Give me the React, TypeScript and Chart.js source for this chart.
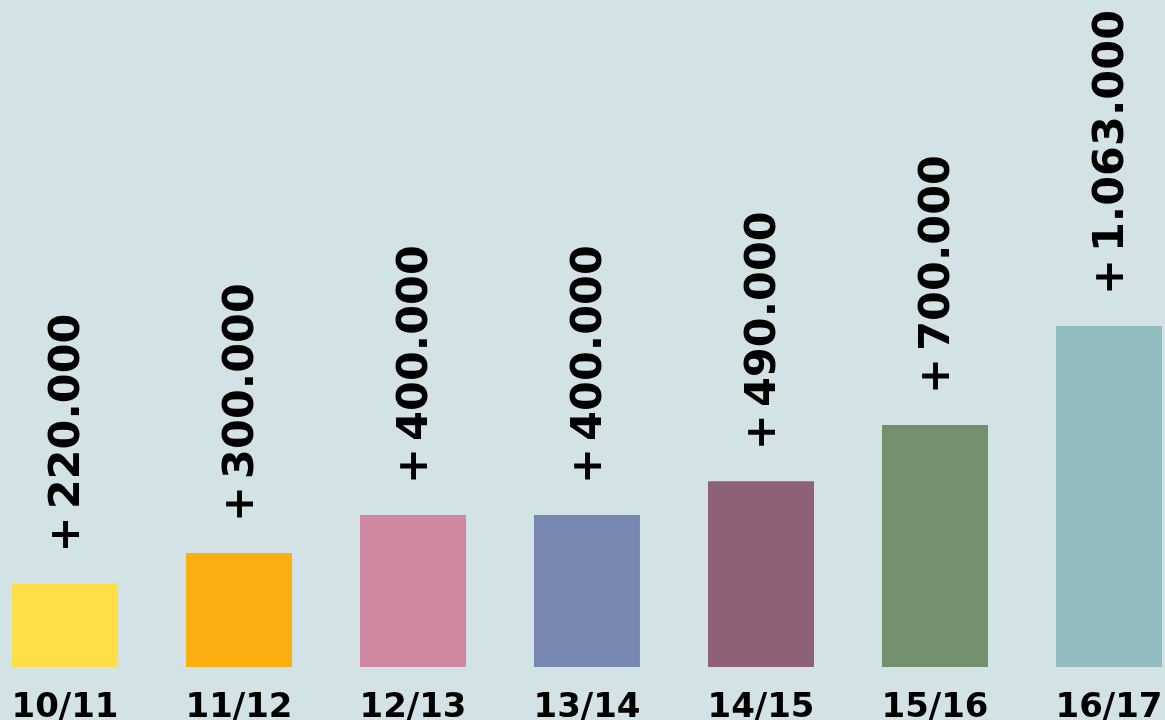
import React, { useEffect, useRef } from "react";
import { Chart, registerables } from "chart.js";

Chart.register(...registerables);

const seasons = ["10/11", "11/12", "12/13", "13/14", "14/15", "15/16", "16/17"];
// bar heights as drawn (thousands)
const barValues = [220, 300, 400, 400, 489, 637, 897];
// value labels as printed above the bars
const valueLabels = ["+220.000", "+300.000", "+400.000", "+400.000", "+490.000", "+700.000", "+1.063.000"];
const barColors = ["#FDE048", "#F8AF0F", "#D087A2", "#7887B1", "#8E6177", "#748F6B", "#91BCC0"];
const BG = "#D3E2E5";
const FONT = "'DejaVu Sans', sans-serif";

const valueLabelPlugin = {
  id: "valueLabels",
  afterDatasetsDraw(chart: any) {
    const ctx = chart.ctx;
    const meta = chart.getDatasetMeta(0);
    ctx.save();
    ctx.fillStyle = "#000";
    ctx.font = `bold 43px ${FONT}`;
    ctx.textAlign = "left";
    ctx.textBaseline = "alphabetic";
    meta.data.forEach((bar: any, i: number) => {
      const label = valueLabels[i];
      const sign = label.charAt(0);
      const rest = label.slice(1);
      ctx.save();
      ctx.translate(bar.x + 14, bar.y - 31);
      ctx.rotate(-Math.PI / 2);
      ctx.fillText(sign, 0, 0);
      ctx.fillText(rest, ctx.measureText(sign).width + 7, 0);
      ctx.restore();
    });
    ctx.restore();
  },
};

export default function App() {
  const ref = useRef<HTMLCanvasElement>(null);
  useEffect(() => {
    if (!ref.current) return;
    const chart = new Chart(ref.current, {
      type: "bar",
      data: {
        labels: seasons,
        datasets: [
          {
            data: barValues,
            backgroundColor: barColors,
            borderWidth: 0,
            categoryPercentage: 1,
            barPercentage: 0.609,
            clip: false as any,
          },
        ],
      },
      options: {
        animation: false,
        responsive: true,
        maintainAspectRatio: false,
        layout: { padding: { left: 65, right: 56, top: 0, bottom: 0 } },
        plugins: { legend: { display: false }, tooltip: { enabled: false } },
        scales: {
          x: {
            offset: false,
            grid: { display: false },
            border: { display: false },
            ticks: {
              color: "#000",
              font: { family: FONT, size: 34, weight: "bold" },
              padding: 13,
              maxRotation: 0,
              autoSkip: false,
            },
            afterFit: (scale: any) => {
              scale.paddingLeft = 0;
              scale.paddingRight = 0;
              scale.height = 53;
            },
          },
          y: {
            display: false,
            min: 0,
            max: 1755,
          },
        },
      },
      plugins: [valueLabelPlugin],
    });
    return () => chart.destroy();
  }, []);
  return (
    <div style={{ position: "fixed", left: 0, top: 0, width: 1165, height: 720, background: BG }}>
      <canvas ref={ref} />
    </div>
  );
}
